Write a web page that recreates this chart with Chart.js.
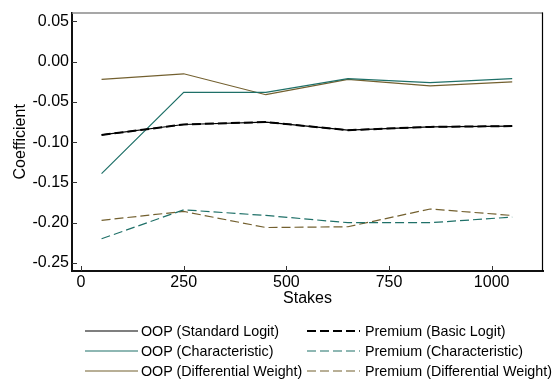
<!DOCTYPE html>
<html>
<head>
<meta charset="utf-8">
<script src="https://cdn.jsdelivr.net/npm/chart.js@4.4.1/dist/chart.umd.min.js"></script>
<style>
body { margin: 0; background: #fff; font-family: "Liberation Sans", Arial, sans-serif; }
#wrap { position: relative; width: 552px; height: 381px; }
#legend { position: absolute; left: 0; top: 0; width: 552px; height: 381px; pointer-events: none; font-size: 14.3px; color: #000; }
.item { position: absolute; display: flex; align-items: center; height: 20px; white-space: nowrap; }
.item svg { display: block; }
.item span { position: absolute; }
</style>
</head>
<body>
<div id="wrap">
  <canvas id="stakesChart" width="552" height="312"></canvas>
  <div id="legend"></div>
</div>
<script>
// values
var stakes = [50, 250, 450, 650, 850, 1050];
var oopStandard = [-0.091, -0.078, -0.075, -0.085, -0.081, -0.080];
var premiumBasic = [-0.091, -0.078, -0.075, -0.085, -0.081, -0.080];
var oopCharacteristic = [-0.139, -0.038, -0.038, -0.021, -0.026, -0.021];
var premiumCharacteristic = [-0.220, -0.184, -0.191, -0.200, -0.200, -0.193];
var oopDifferential = [-0.022, -0.015, -0.041, -0.022, -0.030, -0.025];
var premiumDifferential = [-0.197, -0.186, -0.206, -0.205, -0.183, -0.191];

var xTicks = [0, 250, 500, 750, 1000];
var yTicks = [0.05, 0.00, -0.05, -0.10, -0.15, -0.20, -0.25];

var teal = '#1f7068';
var brown = '#73602f';

function series(label, values, color, width, dash, order) {
    return {
        label: label,
        data: values.map(function (v, i) { return { x: stakes[i], y: v }; }),
        borderColor: color,
        backgroundColor: color,
        borderWidth: width,
        borderDash: dash,
        pointRadius: 0,
        tension: 0,
        fill: false,
        order: order
    };
}

// inward ticks and the thin top / right frame, Stata style
var frame = {
    id: 'frame',
    afterDraw: function (chart) {
        var ctx = chart.ctx;
        var a = chart.chartArea;
        var xs = chart.scales.x, ys = chart.scales.y;
        ctx.save();
        ctx.strokeStyle = '#8a8a8a';
        ctx.lineWidth = 1.5;
        ctx.beginPath();
        ctx.moveTo(a.left, a.top + 0.5);
        ctx.lineTo(a.right, a.top + 0.5);
        ctx.stroke();
        ctx.strokeStyle = '#000';
        ctx.lineWidth = 1.2;
        ctx.beginPath();
        ctx.moveTo(a.right - 0.5, a.top);
        ctx.lineTo(a.right - 0.5, a.bottom);
        ctx.stroke();
        ctx.strokeStyle = '#333';
        ctx.lineWidth = 1;
        ctx.beginPath();
        xTicks.forEach(function (v) {
            var px = Math.round(xs.getPixelForValue(v)) + 0.5;
            ctx.moveTo(px, a.bottom);
            ctx.lineTo(px, a.bottom - 5);
        });
        yTicks.forEach(function (v) {
            var py = Math.round(ys.getPixelForValue(v)) + 0.5;
            ctx.moveTo(a.left, py);
            ctx.lineTo(a.left + 5, py);
        });
        ctx.stroke();
        ctx.restore();
    }
};

var ctx = document.getElementById('stakesChart').getContext('2d');
var chart = new Chart(ctx, {
    type: 'line',
    data: {
        datasets: [
            series('OOP (Standard Logit)', oopStandard, '#000', 1.2, [], 1),
            series('Premium (Basic Logit)', premiumBasic, '#000', 2, [9, 4], 0),
            series('OOP (Characteristic)', oopCharacteristic, teal, 1.2, [], 1),
            series('Premium (Characteristic)', premiumCharacteristic, teal, 1.2, [9, 4], 1),
            series('OOP (Differential Weight)', oopDifferential, brown, 1.2, [], 1),
            series('Premium (Differential Weight)', premiumDifferential, brown, 1.2, [9, 4], 1)
        ]
    },
    options: {
        responsive: false,
        animation: false,
        layout: { padding: { top: 10, right: 9, left: 0, bottom: 0 } },
        plugins: {
            legend: { display: false },
            tooltip: { enabled: false }
        },
        scales: {
            x: {
                type: 'linear',
                min: -22,
                max: 1125,
                afterBuildTicks: function (s) { s.ticks = xTicks.map(function (v) { return { value: v }; }); },
                afterFit: function (s) { s.height = 41; },
                grid: { drawOnChartArea: false, drawTicks: false },
                border: { display: true, color: '#111', width: 2 },
                ticks: {
                    color: '#000',
                    padding: 2,
                    maxRotation: 0,
                    font: { family: 'Liberation Sans', size: 16 },
                    callback: function (v) { return String(v); }
                },
                title: {
                    display: true,
                    text: 'Stakes',
                    color: '#000',
                    padding: { top: 0, bottom: 4 },
                    font: { family: 'Liberation Sans', size: 16 }
                }
            },
            y: {
                type: 'linear',
                min: -0.26,
                max: 0.061,
                afterBuildTicks: function (s) { s.ticks = yTicks.map(function (v) { return { value: v }; }); },
                afterFit: function (s) { s.width = 72; },
                grid: { drawOnChartArea: false, drawTicks: false },
                border: { display: true, color: '#111', width: 2 },
                ticks: {
                    color: '#000',
                    padding: 3,
                    font: { family: 'Liberation Sans', size: 16 },
                    callback: function (v) { return Number(v).toFixed(2); }
                },
                title: {
                    display: true,
                    text: 'Coefficient',
                    color: '#000',
                    padding: { top: 11, bottom: 0 },
                    font: { family: 'Liberation Sans', size: 16 }
                }
            }
        }
    },
    plugins: [frame]
});

// two-column legend below the plot, built from the datasets
var legendBox = document.getElementById('legend');
var colSample = [85, 307];
var colText = [141, 365];
var rowMid = [331, 351, 371];
chart.data.datasets.forEach(function (ds, i) {
    var col = i % 2, row = Math.floor(i / 2);
    var item = document.createElement('div');
    item.className = 'item';
    item.style.left = colSample[col] + 'px';
    item.style.top = (rowMid[row] - 10) + 'px';
    var dash = ds.borderDash.length ? ' stroke-dasharray="' + ds.borderDash.join(' ') + '"' : '';
    item.innerHTML = '<svg width="53" height="6"><line x1="0" y1="3" x2="53" y2="3" stroke="' + ds.borderColor +
        '" stroke-width="' + ds.borderWidth + '"' + dash + '/></svg>' +
        '<span style="left:' + (colText[col] - colSample[col]) + 'px">' + ds.label + '</span>';
    legendBox.appendChild(item);
});
</script>
</body>
</html>
